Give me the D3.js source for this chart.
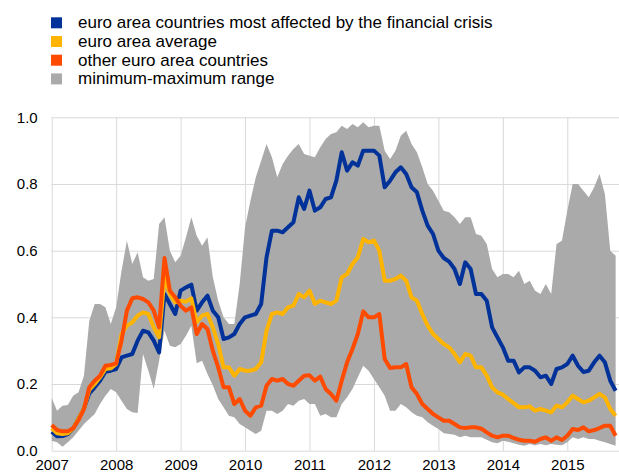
<!DOCTYPE html>
<html>
<head>
<meta charset="utf-8">
<script src="https://cdn.jsdelivr.net/npm/d3@7"></script>
<style>
  html, body { margin: 0; padding: 0; background: #fff; }
  svg { display: block; font-family: "Liberation Sans", Arial, sans-serif; }
</style>
</head>
<body>
<svg id="chart" width="619" height="475"></svg>
<script>
// ---- Data (monthly, starting January 2007) ----
const startYear = 2007;
const seriesNames = [
  "euro area countries most affected by the financial crisis",
  "euro area average",
  "other euro area countries",
  "minimum-maximum range"
];
const mostAffected = [
  0.057,0.043,0.044,0.050,0.067,0.097,0.127,0.172,0.190,0.210,0.237,0.240,
  0.245,0.280,0.285,0.290,0.330,0.360,0.355,0.330,0.295,0.470,0.440,0.410,
  0.480,0.490,0.498,0.420,0.445,0.465,0.420,0.400,0.335,0.340,0.350,0.380,
  0.400,0.405,0.410,0.440,0.580,0.660,0.660,0.655,0.670,0.685,0.760,0.725,
  0.780,0.720,0.730,0.755,0.760,0.810,0.895,0.840,0.865,0.855,0.900,0.900,
  0.900,0.885,0.790,0.810,0.835,0.850,0.830,0.790,0.775,0.720,0.675,0.650,
  0.600,0.578,0.567,0.545,0.500,0.565,0.545,0.470,0.470,0.450,0.370,0.340,
  0.310,0.270,0.270,0.235,0.250,0.250,0.240,0.220,0.225,0.200,0.245,0.250,
  0.260,0.285,0.255,0.236,0.240,0.265,0.285,0.265,0.210,0.180
];
const euroAverage = [
  0.067,0.052,0.050,0.052,0.067,0.097,0.127,0.182,0.200,0.220,0.245,0.247,
  0.260,0.350,0.375,0.385,0.405,0.415,0.410,0.370,0.340,0.520,0.470,0.445,
  0.450,0.447,0.457,0.385,0.405,0.410,0.370,0.320,0.250,0.250,0.225,0.245,
  0.240,0.240,0.245,0.265,0.360,0.410,0.415,0.410,0.430,0.435,0.470,0.460,
  0.480,0.440,0.450,0.445,0.440,0.450,0.520,0.530,0.560,0.580,0.635,0.625,
  0.630,0.600,0.510,0.510,0.515,0.525,0.510,0.460,0.450,0.410,0.375,0.350,
  0.335,0.320,0.310,0.290,0.265,0.290,0.285,0.250,0.250,0.225,0.190,0.175,
  0.168,0.155,0.143,0.130,0.130,0.133,0.120,0.125,0.120,0.115,0.135,0.130,
  0.145,0.165,0.155,0.145,0.150,0.160,0.170,0.160,0.125,0.105
];
const otherCountries = [
  0.077,0.062,0.058,0.058,0.067,0.092,0.125,0.190,0.210,0.225,0.255,0.257,
  0.262,0.330,0.420,0.457,0.460,0.455,0.445,0.420,0.370,0.578,0.480,0.460,
  0.435,0.420,0.430,0.350,0.380,0.365,0.300,0.250,0.190,0.190,0.140,0.155,
  0.120,0.105,0.130,0.135,0.195,0.215,0.210,0.215,0.200,0.195,0.210,0.225,
  0.226,0.210,0.222,0.185,0.170,0.150,0.210,0.265,0.305,0.350,0.418,0.400,
  0.400,0.410,0.275,0.248,0.250,0.250,0.260,0.190,0.170,0.140,0.125,0.110,
  0.100,0.090,0.090,0.080,0.070,0.068,0.070,0.070,0.066,0.055,0.045,0.040,
  0.045,0.045,0.038,0.033,0.030,0.030,0.027,0.035,0.040,0.030,0.040,0.032,
  0.045,0.065,0.062,0.070,0.058,0.062,0.068,0.075,0.075,0.045
];
const rangeMax = [
  0.158,0.120,0.135,0.137,0.165,0.175,0.225,0.390,0.440,0.440,0.430,0.380,
  0.430,0.540,0.630,0.560,0.595,0.520,0.510,0.515,0.680,0.700,0.600,0.565,
  0.585,0.640,0.700,0.645,0.615,0.640,0.520,0.450,0.400,0.380,0.380,0.500,
  0.670,0.750,0.820,0.870,0.920,0.880,0.820,0.860,0.885,0.905,0.920,0.890,
  0.885,0.880,0.910,0.935,0.950,0.955,0.975,0.965,0.980,0.970,0.985,0.970,
  0.975,0.975,0.900,0.875,0.900,0.945,0.960,0.920,0.895,0.850,0.800,0.780,
  0.750,0.720,0.715,0.700,0.680,0.700,0.700,0.650,0.645,0.620,0.545,0.520,
  0.530,0.530,0.520,0.540,0.500,0.510,0.480,0.470,0.500,0.470,0.620,0.630,
  0.720,0.800,0.800,0.780,0.760,0.790,0.830,0.770,0.600,0.585
];
const rangeMin = [
  0.030,0.025,0.012,0.025,0.040,0.060,0.080,0.095,0.110,0.140,0.165,0.185,
  0.175,0.150,0.125,0.115,0.113,0.290,0.240,0.185,0.270,0.360,0.315,0.310,
  0.320,0.345,0.375,0.262,0.270,0.230,0.196,0.155,0.130,0.105,0.100,0.080,
  0.070,0.060,0.050,0.060,0.120,0.120,0.110,0.120,0.140,0.135,0.150,0.155,
  0.140,0.140,0.105,0.110,0.100,0.100,0.140,0.160,0.185,0.220,0.255,0.240,
  0.215,0.190,0.165,0.120,0.120,0.140,0.130,0.115,0.105,0.100,0.085,0.075,
  0.065,0.052,0.050,0.048,0.040,0.045,0.040,0.040,0.040,0.033,0.025,0.022,
  0.030,0.027,0.022,0.018,0.015,0.020,0.016,0.020,0.016,0.020,0.018,0.016,
  0.025,0.040,0.035,0.040,0.035,0.035,0.030,0.025,0.020,0.015
];
const xTickYears = [2007, 2008, 2009, 2010, 2011, 2012, 2013, 2014, 2015];
const yTickValues = [0.0, 0.2, 0.4, 0.6, 0.8, 1.0];
const colors = ["#003299", "#FFB400", "#FF4B00", "#AAAAAA"];

// ---- Layout ----
const svg = d3.select("#chart");
const plotLeft = 51.7, plotRight = 619, plotTop = 117.3, plotBottom = 450.7;

const x = d3.scaleLinear().domain([2007, 2015]).range([plotLeft, 567.3]);
const y = d3.scaleLinear().domain([0, 1]).range([plotBottom, plotTop]);
const t = i => startYear + i / 12;

// gridlines + axes
const yAxis = d3.axisLeft(y).tickValues(yTickValues)
  .tickSize(-(plotRight - plotLeft)).tickPadding(14).tickFormat(d3.format(".1f"));
const gy = svg.append("g").attr("transform", `translate(${plotLeft},0)`).call(yAxis);
gy.select(".domain").remove();
gy.selectAll("line").attr("stroke", "#d9d9d9").attr("stroke-width", 1);
gy.selectAll("text").attr("font-size", 15).attr("fill", "#000")
  .attr("font-family", "Liberation Sans, Arial, sans-serif");

const xAxis = d3.axisBottom(x).tickValues(xTickYears)
  .tickSize(-(plotBottom - plotTop)).tickPadding(9).tickFormat(d => String(d));
const gx = svg.append("g").attr("transform", `translate(0,${plotBottom})`).call(xAxis);
gx.select(".domain").remove();
gx.selectAll("line").attr("stroke", "#d9d9d9").attr("stroke-width", 1);
gx.selectAll("text").attr("font-size", 15).attr("fill", "#000")
  .attr("font-family", "Liberation Sans, Arial, sans-serif");

// range band
const band = d3.area()
  .x((d, i) => x(t(i)))
  .y0((d, i) => y(rangeMin[i]))
  .y1((d, i) => y(rangeMax[i]));
svg.append("path").datum(rangeMax).attr("d", band).attr("fill", colors[3]);

// lines
const line = d3.line().x((d, i) => x(t(i))).y(d => y(d));
[mostAffected, euroAverage, otherCountries].forEach((s, k) => {
  svg.append("path").datum(s).attr("d", line)
    .attr("fill", "none").attr("stroke", colors[k])
    .attr("stroke-width", 4).attr("stroke-linejoin", "round");
});

// legend
const lg = svg.append("g");
seriesNames.forEach((name, k) => {
  const ty = 17.3 + k * 18.7;
  lg.append("rect").attr("x", 51).attr("y", ty).attr("width", 11).attr("height", 11)
    .attr("fill", colors[k]);
  lg.append("text").attr("x", 78).attr("y", ty + 10.8)
    .attr("font-size", 17).attr("fill", "#000").text(name);
});
</script>
</body>
</html>
